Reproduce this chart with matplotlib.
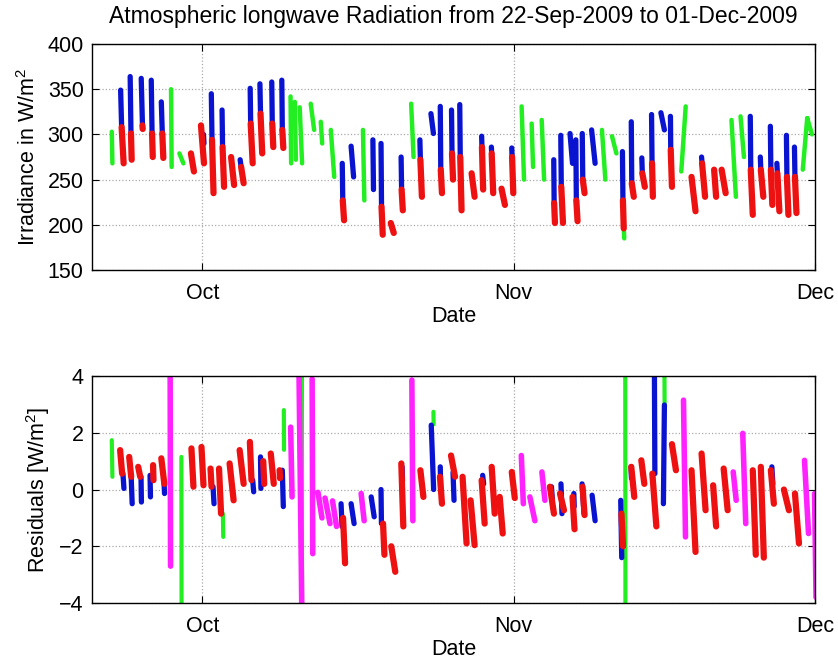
import numpy as np
import matplotlib
matplotlib.use("Agg")
import matplotlib.pyplot as plt

plt.rcParams['font.family'] = ['Liberation Sans', 'DejaVu Sans']
plt.rcParams['mathtext.default'] = 'regular'

# day numbers, 0 = 01-Oct-2009
month_ticks = [0, 31, 61]
month_labels = ['Oct', 'Nov', 'Dec']

# streaks: (t_start, t_end, value_start, value_end)
top_green = [(-9.03, -8.97, 303, 268), (-3.13, -3.07, 350, 264), (-2.3, -1.9, 279, 268),
             (8.77, 8.83, 342, 268), (9.2, 9.3, 336, 272), (9.68, 9.92, 330, 268),
             (10.78, 11.12, 334, 305), (11.78, 11.92, 314, 290), (12.78, 13.12, 305, 253),
             (15.98, 16.12, 305, 227), (20.78, 21.02, 334, 275), (31.78, 32.02, 331, 250),
             (32.78, 32.92, 312, 264), (33.78, 34.02, 316, 250), (39.78, 40.12, 305, 250),
             (40.78, 41.22, 298, 279), (41.95, 42.0, 198, 185), (47.68, 48.12, 259, 331),
             (52.68, 53.12, 316, 231), (53.58, 53.92, 320, 275), (59.78, 60.22, 261, 318),
             (60.22, 60.7, 318, 300)]

top_blue = [(-8.15, -8.05, 349, 308), (-7.2, -7.12, 364, 301), (-6.1, -5.98, 362, 312),
            (-5.1, -5.02, 360, 301), (-4.1, -4.0, 336, 301), (0.1, 0.15, 300, 290),
            (0.88, 0.95, 345, 294), (1.95, 2.0, 327, 286), (3.75, 3.85, 272, 264),
            (4.75, 4.8, 351, 312), (5.72, 5.78, 356, 323), (6.9, 6.95, 358, 312),
            (7.9, 7.95, 360, 305), (13.92, 13.97, 268, 227), (14.8, 15.05, 287, 253),
            (16.97, 17.03, 294, 239), (17.78, 17.83, 290, 220), (19.78, 19.83, 275, 239),
            (21.65, 21.7, 294, 272), (22.75, 23.0, 323, 301), (23.68, 23.73, 331, 261),
            (24.8, 24.85, 327, 279), (25.62, 25.67, 333, 275), (27.8, 27.83, 298, 286),
            (28.77, 28.8, 286, 279), (30.8, 30.83, 285, 275), (34.98, 35.02, 272, 224),
            (35.68, 35.73, 299, 242), (36.6, 36.85, 301, 268), (37.18, 37.23, 294, 227),
            (37.82, 37.87, 301, 250), (38.75, 39.1, 305, 268), (41.82, 41.87, 281, 227),
            (42.7, 42.75, 314, 246), (43.75, 43.8, 274, 257), (44.72, 44.77, 322, 268),
            (45.65, 46.0, 324, 305), (46.6, 46.63, 320, 283), (49.7, 49.75, 275, 268),
            (54.55, 54.6, 320, 261), (55.55, 55.6, 275, 261), (56.55, 56.6, 309, 261),
            (57.2, 57.25, 268, 257), (58.15, 58.2, 299, 253), (58.95, 59.0, 286, 253)]

top_red = [(-8.05, -7.85, 308, 268), (-7.12, -7.05, 301, 272), (-5.98, -5.95, 310, 306),
           (-5.02, -4.95, 301, 275), (-4.0, -3.9, 301, 274), (-1.15, -0.85, 279, 259),
           (-0.15, 0.15, 310, 268), (0.95, 1.1, 294, 235), (2.0, 2.15, 286, 242),
           (2.85, 3.15, 275, 244), (3.85, 4.1, 264, 246), (4.8, 5.0, 312, 268),
           (5.78, 5.95, 323, 279), (6.95, 7.05, 312, 286), (7.95, 8.05, 305, 285),
           (13.97, 14.1, 227, 205), (17.83, 17.95, 220, 189), (18.75, 19.05, 202, 191),
           (19.83, 19.95, 239, 216), (21.7, 21.85, 272, 231), (23.73, 23.85, 261, 235),
           (24.85, 24.95, 279, 250), (25.67, 25.8, 275, 216), (26.8, 27.1, 257, 231),
           (27.83, 27.95, 286, 239), (28.8, 28.95, 279, 235), (29.78, 30.12, 240, 222),
           (30.83, 30.95, 275, 235), (35.02, 35.1, 224, 202), (35.73, 35.9, 242, 202),
           (37.23, 37.35, 227, 204), (37.87, 38.05, 250, 235), (41.87, 41.95, 227, 196),
           (42.75, 42.95, 246, 231), (43.8, 44.05, 257, 242), (44.77, 44.85, 268, 231),
           (46.63, 46.75, 283, 242), (48.7, 49.1, 253, 215), (49.75, 50.05, 268, 231),
           (50.95, 51.15, 261, 231), (51.7, 52.1, 261, 235), (54.6, 54.8, 261, 211),
           (55.6, 55.85, 261, 231), (56.6, 56.75, 261, 222), (57.25, 57.45, 257, 215),
           (58.2, 58.35, 253, 211), (59.0, 59.15, 253, 213)]

res_green = [(-9.03, -8.97, 1.74, 0.45), (-2.1, -2.08, 1.15, -4.5), (2.03, 2.07, -0.85, -1.67),
             (8.1, 8.12, 2.8, 1.4), (9.9, 9.92, 4.5, -4.5), (20.92, 20.96, -0.9, -1.1),
             (23.0, 23.02, 2.74, 2.3), (42.1, 42.12, 4.5, -4.5), (46.0, 46.02, 4.5, 3.0)]

res_blue = [(-7.92, -7.82, 0.56, 0.04), (-7.1, -7.0, 0.45, -0.5), (-6.12, -6.08, 0.45, -0.44),
            (-5.22, -5.18, 0.5, -0.26), (-3.82, -3.78, 0.2, -0.14), (1.05, 1.15, 0.1, -0.5),
            (5.0, 5.1, 0.33, -0.08), (5.78, 5.82, 1.15, 0.04), (7.95, 8.05, 0.68, -0.6),
            (13.8, 13.9, -0.5, -1.3), (14.8, 15.1, -0.5, -1.2), (16.8, 17.1, -0.26, -0.96),
            (17.78, 17.82, 0.0, -1.2), (19.88, 19.92, 0.8, 0.3), (22.78, 23.02, 2.27, 0.0),
            (23.68, 23.72, 0.8, 0.0), (24.95, 25.05, 0.6, -0.38), (27.9, 28.0, 0.5, 0.2),
            (34.75, 34.85, 0.1, -0.38), (35.7, 35.8, 0.2, -0.85), (36.98, 37.02, -0.14, -0.6),
            (37.8, 38.0, 0.2, -0.85), (38.8, 39.1, -0.2, -1.1), (41.65, 41.75, -0.38, -2.4),
            (42.68, 42.72, 0.8, 0.4), (45.0, 45.05, 4.5, 0.56), (45.9, 46.0, -0.5, 2.98),
            (56.7, 56.8, 0.8, 0.2)]

res_red = [(-8.2, -8.0, 1.39, 0.56), (-7.3, -7.1, 1.15, 0.45), (-6.4, -6.2, 0.8, 0.45),
           (-4.92, -4.88, 0.86, 0.33), (-4.1, -3.8, 1.1, 0.2), (-1.1, -0.9, 1.45, 0.1),
           (-0.1, 0.1, 1.5, 0.15), (0.8, 0.9, 0.74, 0.1), (1.65, 1.85, 0.74, -0.85),
           (2.7, 3.1, 0.92, -0.38), (3.7, 4.1, 1.39, 0.2), (4.72, 4.88, 1.68, 0.33),
           (6.05, 6.15, 1.0, 0.2), (6.8, 7.1, 1.27, 0.2), (7.68, 7.72, 0.68, 0.4),
           (14.0, 14.2, -1.0, -2.6), (17.98, 18.12, -1.2, -2.3), (18.8, 19.2, -2.0, -2.9),
           (19.8, 20.0, 0.92, -1.3), (21.7, 22.0, 0.68, -0.26), (23.65, 23.85, 0.45, -0.5),
           (24.75, 25.15, 1.2, 0.45), (25.9, 26.3, 0.45, -1.9), (26.7, 27.1, -0.38, -1.96),
           (27.8, 28.1, 0.33, -1.2), (28.8, 29.1, 0.8, -0.85), (29.6, 29.9, -0.26, -1.55),
           (30.8, 31.1, 0.62, -0.3), (34.6, 35.0, 0.1, -0.85), (35.6, 36.0, -0.14, -0.73),
           (36.85, 37.05, -0.26, -1.4), (37.85, 38.05, 0.1, -0.9), (41.72, 41.88, -0.85, -2.0),
           (42.7, 43.0, 0.8, -0.26), (43.7, 44.0, 1.03, 0.2), (44.8, 45.2, 0.56, -1.3),
           (46.75, 47.15, 1.6, 0.68), (48.7, 49.1, 0.68, -2.2), (49.7, 50.1, 1.27, -0.73),
           (50.85, 51.15, 0.15, -1.3), (51.9, 52.3, 0.74, -0.73), (54.8, 55.1, 0.68, -2.3),
           (55.6, 55.9, 0.8, -2.4), (56.6, 56.9, 0.68, -0.5), (57.9, 58.4, 0.0, -0.73),
           (59.0, 59.4, -0.14, -1.9)]

res_magenta = [(-3.22, -3.18, 4.5, -2.7), (8.78, 8.92, 2.2, -0.26), (9.6, 9.9, 4.5, -4.5),
               (10.92, 10.98, 3.9, -2.26), (11.5, 11.9, -0.1, -1.0), (12.2, 12.7, -0.3, -1.2),
               (12.95, 13.35, -0.4, -1.3), (15.8, 16.1, -0.14, -1.1), (20.85, 20.95, 3.86, -1.1),
               (31.75, 31.95, 1.2, -0.5), (32.6, 33.1, -0.26, -1.1), (33.8, 34.1, 0.62, -0.38),
               (47.9, 48.1, 3.15, -1.67), (52.85, 53.15, 0.62, -0.38), (53.8, 54.1, 1.98, -1.2),
               (59.95, 60.35, 1.03, -1.55), (60.95, 61.1, -0.14, -3.8)]


def draw_streaks(ax, streaks, color, lw):
    xs = []
    ys = []
    for t0, t1, v0, v1 in streaks:
        xs += [t0, t1, np.nan]
        ys += [v0, v1, np.nan]
    ax.plot(xs, ys, color=color, lw=lw, solid_capstyle='round')


def style_axes(ax):
    ax.set_xlim(-11, 61)
    ax.set_xticks(month_ticks)
    ax.set_xticklabels(month_labels)
    ax.grid(True, linestyle=':', color='#aaaaaa', linewidth=0.9)
    ax.tick_params(direction='in', top=True, right=True, labelsize=15.5, length=5, pad=6)
    ax.tick_params(axis='x', pad=9)
    ax.set_xlabel('Date', fontsize=15.5, labelpad=2)
    for s in ax.spines.values():
        s.set_linewidth(1.0)


fig = plt.figure(figsize=(8.38, 6.61), dpi=100)

ax1 = fig.add_axes([0.1098, 0.5915, 0.8628, 0.3419])
draw_streaks(ax1, top_green, '#22ee22', 3.2)
draw_streaks(ax1, top_blue, '#0a14d0', 3.8)
draw_streaks(ax1, top_red, '#ee1111', 4.5)
style_axes(ax1)
ax1.set_ylim(150, 400)
ax1.set_yticks([150, 200, 250, 300, 350, 400])
ax1.set_ylabel('Irradiance in W/m$^2$', fontsize=15.5, labelpad=5)
ax1.set_title('Atmospheric longwave Radiation from 22-Sep-2009 to 01-Dec-2009',
              fontsize=16.5, pad=15)

ax2 = fig.add_axes([0.1098, 0.0877, 0.8628, 0.3434])
draw_streaks(ax2, res_green, '#22ee22', 3.0)
draw_streaks(ax2, res_blue, '#0a14d0', 3.8)
draw_streaks(ax2, res_red, '#ee1111', 4.5)
draw_streaks(ax2, res_magenta, '#ff22ff', 4.0)
style_axes(ax2)
ax2.set_ylim(-4, 4)
ax2.set_yticks([-4, -2, 0, 2, 4])
ax2.set_ylabel('Residuals [W/m$^2$]', fontsize=15.5, labelpad=5)

fig.savefig('out.png', dpi=100)
